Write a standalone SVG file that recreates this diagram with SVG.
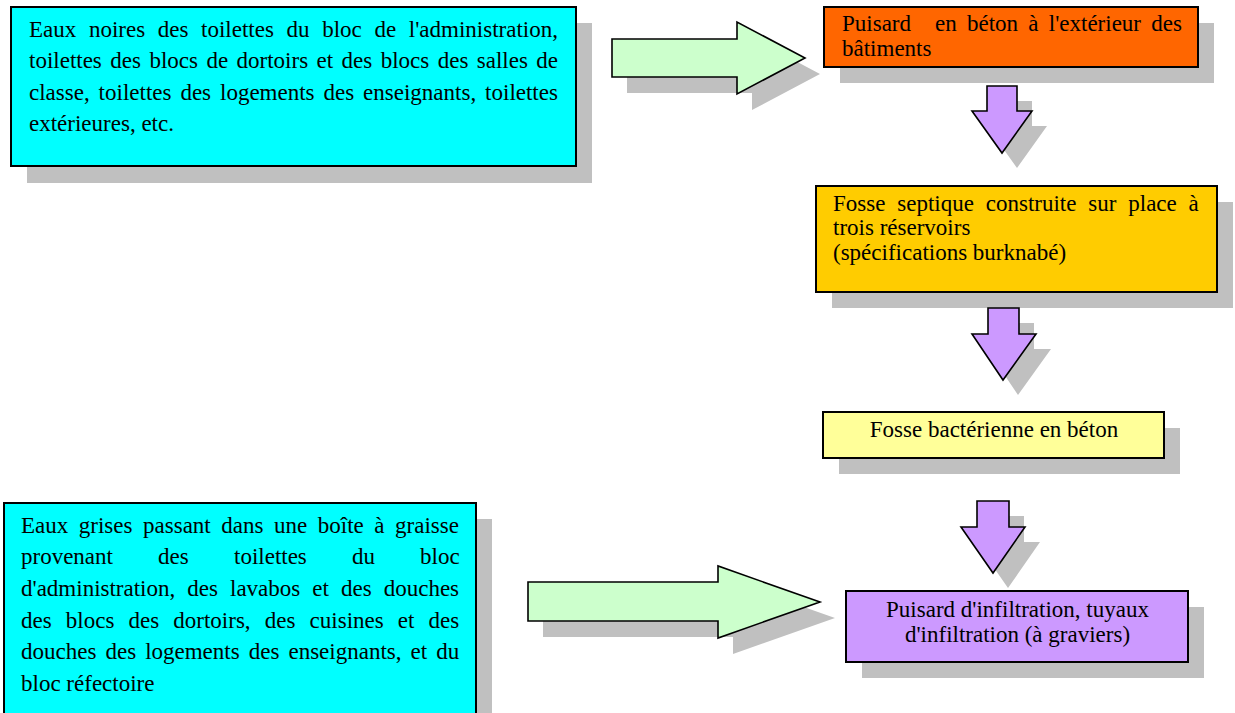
<svg xmlns="http://www.w3.org/2000/svg" xmlns:xlink="http://www.w3.org/1999/xlink" width="1235" height="713" viewBox="0 0 1235 713">
<style>
.shadow{fill:#C0C0C0;stroke:none}
.box{stroke:#000;stroke-width:2}
.arrow{stroke:#000;stroke-width:1.6;stroke-linejoin:miter}
.t{fill:#000;font:23px "Liberation Serif", "Times New Roman", serif}
.c{text-anchor:middle}
</style>
<defs>
<path id="g1" d="M612,39 L737,39 L737,22 L805,58 L737,94 L737,77 L612,77 Z"/>
<path id="g2" d="M528,582 L718,582 L718,566 L820,602 L718,638 L718,621 L528,621 Z"/>
<path id="p1" d="M987,86 L1017,86 L1017,111 L1032,111 L1002,153 L972,111 L987,111 Z"/>
<path id="p2" d="M988,308 L1019,308 L1019,334 L1036,334 L1003,380 L972,334 L988,334 Z"/>
<path id="p3" d="M977,501 L1009,501 L1009,527 L1025,527 L993,573 L961,527 L977,527 Z"/>
</defs>
<rect width="1235" height="713" fill="#fff"/>

<g id="eaux-noires">
<rect class="shadow" x="27" y="23" width="565" height="160"/>
<rect class="box" x="11" y="7" width="565" height="159" fill="#00FFFF"/>
<text class="t" x="29" y="36.5" word-spacing="6.9">Eaux noires des toilettes du bloc de l'administration,</text>
<text class="t" x="29" y="68" word-spacing="2.7">toilettes des blocs de dortoirs et des blocs des salles de</text>
<text class="t" x="29" y="99.5" word-spacing="3.2">classe, toilettes des logements des enseignants, toilettes</text>
<text class="t" x="29" y="131">extérieures, etc.</text>
</g>

<g id="eaux-grises">
<rect class="shadow" x="20" y="519" width="472" height="230"/>
<rect class="box" x="4" y="503" width="472" height="230" fill="#00FFFF"/>
<text class="t" x="21" y="533" word-spacing="4.8">Eaux grises passant dans une boîte à graisse</text>
<text class="t" y="564"><tspan x="21">provenant</tspan> <tspan x="158">des</tspan> <tspan x="234">toilettes</tspan> <tspan x="352">du</tspan> <tspan x="420">bloc</tspan></text>
<text class="t" x="21" y="596" word-spacing="6.3">d'administration, des lavabos et des douches</text>
<text class="t" x="21" y="628" word-spacing="8.4">des blocs des dortoirs, des cuisines et des</text>
<text class="t" x="21" y="659" word-spacing="3.3">douches des logements des enseignants, et du</text>
<text class="t" x="21" y="691">bloc réfectoire</text>
</g>

<g id="puisard-beton">
<rect class="shadow" x="840" y="23" width="374" height="60"/>
<rect class="box" x="824" y="7" width="374" height="60" fill="#FF6600"/>
<text class="t" y="31" word-spacing="4.5"><tspan x="842">Puisard</tspan> <tspan x="935">en béton à l'extérieur des</tspan></text>
<text class="t" x="842" y="56">bâtiments</text>
</g>

<g id="fosse-septique">
<rect class="shadow" x="832" y="202" width="401" height="106"/>
<rect class="box" x="816" y="186" width="401" height="106" fill="#FFCC00"/>
<text class="t" x="833" y="211" word-spacing="6.1">Fosse septique construite sur place à</text>
<text class="t" x="833" y="235">trois réservoirs</text>
<text class="t" x="833" y="260">(spécifications burknabé)</text>
</g>

<g id="fosse-bacterienne">
<rect class="shadow" x="839" y="428" width="341" height="46"/>
<rect class="box" x="823" y="412" width="341" height="46" fill="#FFFF99"/>
<text class="t c" x="994" y="437">Fosse bactérienne en béton</text>
</g>

<g id="puisard-infiltration">
<rect class="shadow" x="862" y="607" width="342" height="71"/>
<rect class="box" x="846" y="591" width="342" height="71" fill="#CC99FF"/>
<text class="t c" x="1017.5" y="617">Puisard d'infiltration, tuyaux</text>
<text class="t c" x="1017.5" y="642">d'infiltration (à graviers)</text>
</g>

<g id="connectors">
<use xlink:href="#g1" class="shadow" transform="translate(15,16)"/>
<use xlink:href="#g1" class="arrow" fill="#CCFFCC"/>
<use xlink:href="#g2" class="shadow" transform="translate(15,16)"/>
<use xlink:href="#g2" class="arrow" fill="#CCFFCC"/>
<use xlink:href="#p1" class="shadow" transform="translate(15,15)"/>
<use xlink:href="#p1" class="arrow" fill="#CC99FF"/>
<use xlink:href="#p2" class="shadow" transform="translate(15,15)"/>
<use xlink:href="#p2" class="arrow" fill="#CC99FF"/>
<use xlink:href="#p3" class="shadow" transform="translate(15,15)"/>
<use xlink:href="#p3" class="arrow" fill="#CC99FF"/>
</g>
</svg>
